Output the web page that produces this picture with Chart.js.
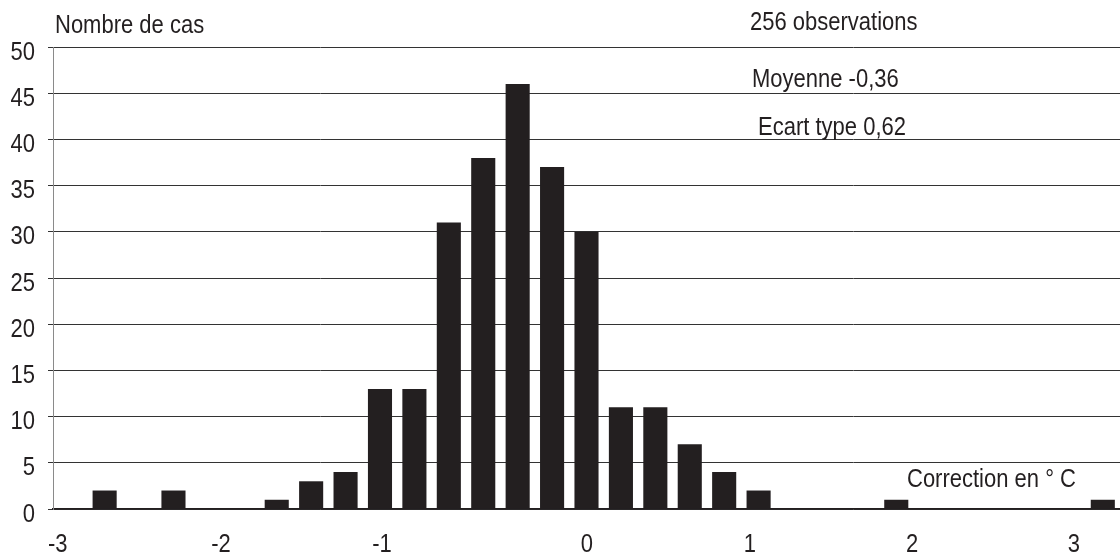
<!DOCTYPE html>
<html lang="fr">
<head>
    <meta charset="UTF-8">
    <title>Correction en °C</title>
    <script src="https://cdn.jsdelivr.net/npm/chart.js"></script>
    <style>
      body { margin: 0; background: #fff; overflow: hidden; }
      #box { width: 1120px; height: 558px; }
    </style>
</head>
<body>

  <div id="box">
    <canvas id="canvas_hist" width="1120" height="558"></canvas>
  </div>

</body>
</html>
<script>

    // classes de 0,2 °C
    var classes = ['-3,0','-2,8','-2,6','-2,4','-2,2','-2,0','-1,8','-1,6','-1,4','-1,2','-1,0',
                   '-0,8','-0,6','-0,4','-0,2','0,0','0,2','0,4','0,6','0,8','1,0',
                   '1,2','1,4','1,6','1,8','2,0','2,2','2,4','2,6','2,8','3,0'];
    var nb_cas = [0, 2, 0, 2, 0, 0, 1, 3, 4, 13, 13,
                  31, 38, 46, 37, 30, 11, 11, 7, 4, 2,
                  0, 0, 0, 1, 0, 0, 0, 0, 0, 1];
    var ticks_x = ['-3', '-2', '-1', '0', '1', '2', '3'];
    var ticks_y = [0, 5, 10, 15, 20, 25, 30, 35, 40, 45, 50];
    var textes = ['Nombre de cas', '256 observations', 'Moyenne -0,36', 'Ecart type 0,62', 'Correction en ° C'];

    var noir = '#231f20';
    var police = "25px 'Liberation Sans', Arial, sans-serif";

    // where the x labels sit, in category slots (the original ones are placed by hand)
    var slots_x = [-0.36, 4.38, 9.06, 15.01, 19.75, 24.46, 29.16];
    var pos_textes = [[55, 33], [750, 30], [752, 87], [758, 135], [907, 487]];

    // the original font is narrow: draw it a bit squeezed
    function ecrire(ctx, txt, x, y, align) {
      ctx.save();
      ctx.translate(x, y);
      ctx.scale(0.88, 1);
      ctx.textAlign = align;
      ctx.fillText(txt, 0, 0);
      ctx.restore();
    }

    var textesPlugin = {
      id: 'textes',
      afterDraw: function (chart) {
        var ctx = chart.ctx;
        var sx = chart.scales.x;
        var sy = chart.scales.y;
        ctx.save();
        ctx.fillStyle = noir;
        ctx.font = police;
        ctx.textBaseline = 'alphabetic';

        for (var i = 0; i < ticks_x.length; i++) {
          ecrire(ctx, ticks_x[i], sx.getPixelForValue(slots_x[i]), 552, 'center');
        }
        for (var k = 0; k < ticks_y.length; k++) {
          ecrire(ctx, String(ticks_y[k]), 35, sy.getPixelForValue(ticks_y[k]) + 12.5, 'right');
        }
        for (var j = 0; j < textes.length; j++) {
          ecrire(ctx, textes[j], pos_textes[j][0], pos_textes[j][1], 'left');
        }
        ctx.restore();
      }
    };

    var hist = document.getElementById('canvas_hist');

    var grafico = new Chart(hist, {
      type: 'bar',
      data: {
        labels: classes,
        datasets: [{
          label: 'Nombre de cas',
          data: nb_cas,
          backgroundColor: noir,
          borderWidth: 0,
          barPercentage: 0.7,
          categoryPercentage: 1.0
        }]
      },
      options: {
        responsive: false,
        animation: false,
        devicePixelRatio: 1,
        layout: {
          padding: { left: 0, right: 0, top: 47, bottom: 49 }
        },
        plugins: {
          legend: { display: false },
          tooltip: { enabled: false }
        },
        scales: {
          x: {
            type: 'category',
            afterFit: function (s) { s.height = 0; },
            grid: { display: false, drawTicks: false },
            border: { display: true, color: noir, width: 1.5 },
            ticks: { display: false }
          },
          y: {
            min: ticks_y[0],
            max: ticks_y[ticks_y.length - 1],
            afterFit: function (s) { s.width = 53; },
            afterBuildTicks: function (s) {
              s.ticks = ticks_y.map(function (v) { return { value: v }; });
            },
            grid: {
              color: '#333',
              lineWidth: 1,
              drawTicks: true,
              tickLength: 5
            },
            border: { display: true, color: '#8a8a8a', width: 1 },
            ticks: { display: false }
          }
        }
      },
      plugins: [textesPlugin]
    });

</script>
